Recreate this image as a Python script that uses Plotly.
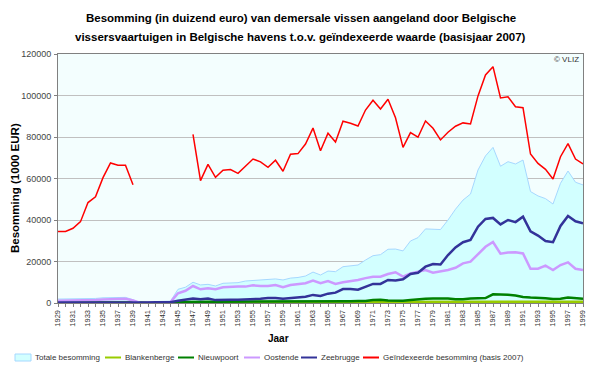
import plotly.graph_objects as go

years = list(range(1929, 2000))
tick_labels = [str(y) if (y - 1929) % 2 == 0 else "" for y in years]

totale = [1900, 1900, 2000, 2000, 2100, 2200, 2500, 2600, 2700, 2700, 1600,
          0, 600, 700, 900, 900,
          6600, 7600, 10000, 8700, 9000, 8200, 9500, 9800, 9800, 10600,
          10800, 11100, 11100, 11600, 11100, 12000, 12300, 13000, 14900, 13500,
          15400, 15100, 17500, 18000, 18300, 20700, 22800, 23300, 25900, 26000,
          25100, 29900, 31500, 35700, 35700, 35400, 40000, 45200, 49600, 52500,
          64100, 70900, 75000, 65900, 68100, 67000, 68900, 53700, 51600, 50300,
          47700, 57700, 63600, 58200, 56900]

blankenberge = [300, 300, 300, 300, 300, 300, 300, 300, 300, 300, 200,
                0, 0, 0, 0, 0,
                300, 300, 400, 400, 400, 400, 400, 400, 400, 400,
                400, 400, 400, 400, 400, 400, 400, 400, 400, 400,
                400, 400, 400, 400, 400, 400, 500, 500, 500, 500,
                500, 500, 500, 500, 500, 500, 500, 500, 500, 500,
                600, 600, 600, 600, 600, 600, 600, 600, 600, 600,
                600, 600, 600, 600, 600]

nieuwpoort = [200, 200, 200, 200, 200, 200, 200, 200, 200, 200, 150,
              0, 100, 100, 100, 100,
              500, 600, 600, 600, 600, 600, 600, 600, 700, 700,
              700, 700, 700, 700, 700, 800, 800, 800, 800, 800,
              900, 900, 900, 900, 1000, 1000, 1500, 1600, 1200, 1100,
              1100, 1400, 1800, 2000, 2200, 2200, 2200, 1800, 1800, 2200,
              2400, 2400, 4200, 4200, 4000, 3600, 2900, 2600, 2600, 2300,
              1900, 2000, 2600, 2300, 2000]

oostende = [1100, 1100, 1200, 1200, 1300, 1400, 1700, 1800, 1900, 2000, 1200,
            0, 200, 300, 400, 400,
            4700, 5900, 8200, 6600, 7100, 6600, 7600, 7900, 7900, 7900,
            8500, 8200, 8200, 8700, 7600, 8700, 9200, 9500, 10800, 9500,
            10600, 9200, 10000, 10500, 11100, 12000, 12700, 12700, 14000, 14800,
            12700, 14300, 15100, 15900, 14600, 15100, 15900, 17000, 19100, 19900,
            23600, 27100, 29400, 23800, 24300, 24400, 23900, 16500, 16500, 18000,
            15900, 18300, 19600, 16500, 15900]

zeebrugge = [300, 300, 300, 300, 300, 300, 300, 300, 300, 300, 200,
             0, 300, 400, 400, 400,
             1100, 1800, 2200, 1800, 2200, 1400, 1600, 1600, 1600, 1700,
             2000, 2000, 2400, 2400, 2000, 2400, 2500, 3000, 3900, 3400,
             4500, 5000, 6700, 6800, 6400, 7900, 9200, 9200, 11100, 10800,
             11400, 14000, 14600, 17500, 18800, 18600, 23100, 26800, 29300, 30400,
             36800, 40500, 41000, 37900, 40000, 39000, 41600, 34500, 32500, 29900,
             29300, 37100, 41900, 39400, 38400]

geindexeerd = [34400, 34500, 36000, 39200, 48400, 51200, 60400, 67500, 66400, 66400, 57000,
               None, None, None, None, None, None, None,
               81300, 59000, 66800, 60600, 64000, 64300, 62500, 66000,
               69400, 68000, 65400, 68800, 63500, 71700, 72000, 76600, 84300, 73400,
               81800, 77600, 87600, 86600, 85300, 93000, 97700, 93500, 98200, 89300,
               75000, 82100, 79900, 87700, 84200, 78600, 82300, 85200, 86800, 86300,
               99800, 109900, 113900, 98800, 99400, 94600, 94100, 71800, 67300, 64400,
               59800, 70500, 76800, 69400, 67000]

series_names = ["Totale besomming", "Blankenberge", "Nieuwpoort", "Oostende", "Zeebrugge",
                "Geïndexeerde besomming (basis 2007)"]
series_colors = ["#a6d8ff", "#99cc00", "#008000", "#cc99ff", "#333399", "#ff0000"]
title_lines = ["Besomming (in duizend euro) van demersale vissen aangeland door Belgische",
               "vissersvaartuigen in Belgische havens t.o.v. geïndexeerde waarde (basisjaar 2007)"]

FONT = "Liberation Sans"
# the page body has an 8px margin: figure is drawn 8px smaller and all
# reference pixel positions are shifted by -8
OFF = 8
W, H = 600 - OFF, 368 - OFF
L, R, T, B = 58 - OFF, 583 - OFF, 54 - OFF, 303 - OFF


def px(x):
    return (x - OFF - L) / (R - L)


def py(y):
    return (B - (y - OFF)) / (B - T)


fig = go.Figure()
fig.add_trace(go.Scatter(x=years, y=totale, name=series_names[0], mode="lines",
                         fill="tozeroy", fillcolor="#d2ffff",
                         line=dict(color=series_colors[0], width=1)))
for name, col, vals in zip(series_names[1:5], series_colors[1:5],
                           [blankenberge, nieuwpoort, oostende, zeebrugge]):
    fig.add_trace(go.Scatter(x=years, y=vals, name=name, mode="lines",
                             line=dict(color=col, width=2.5)))
fig.add_trace(go.Scatter(x=years, y=geindexeerd, name=series_names[5],
                         mode="lines", connectgaps=False,
                         line=dict(color=series_colors[5], width=1.5)))

# manual legend (one row, as in the reference)
legend_sym_x = [15, 105, 178, 244, 301, 363]
legend_y = 357.5
shapes = []
annotations = []
for i, (name, col, sx) in enumerate(zip(series_names, series_colors, legend_sym_x)):
    if i == 0:
        shapes.append(dict(type="rect", xref="paper", yref="paper",
                           x0=px(sx), x1=px(sx + 16), y0=py(legend_y + 3.5), y1=py(legend_y - 3.5),
                           fillcolor="#d2ffff", line=dict(color=col, width=1)))
    else:
        shapes.append(dict(type="line", xref="paper", yref="paper",
                           x0=px(sx), x1=px(sx + 16), y0=py(legend_y), y1=py(legend_y),
                           line=dict(color=col, width=2)))
    annotations.append(dict(text=name, xref="paper", yref="paper",
                            x=px(sx + 18), y=py(legend_y), xanchor="left", yanchor="middle",
                            showarrow=False,
                            font=dict(family=FONT, size=8, color="#333333")))

for line_text, ly in zip(title_lines, [18, 37]):
    annotations.append(dict(text="<b>" + line_text + "</b>", xref="paper", yref="paper",
                            x=px(300.5), y=py(ly), xanchor="center", yanchor="middle",
                            showarrow=False, font=dict(family=FONT, size=11.5, color="black")))

annotations += [
    dict(text="<b>Besomming (1000 EUR)</b>", textangle=-90, xref="paper", yref="paper",
         x=px(15), y=py(188), xanchor="center", yanchor="middle",
         showarrow=False, font=dict(family=FONT, size=11.5, color="black")),
    dict(text="<b>Jaar</b>", xref="paper", yref="paper",
         x=px(278), y=py(338), xanchor="center", yanchor="middle",
         showarrow=False, font=dict(family=FONT, size=10, color="black")),
    dict(text="© VLIZ", xref="paper", yref="paper",
         x=px(581), y=py(60), xanchor="right", yanchor="middle",
         showarrow=False, font=dict(family=FONT, size=8, color="#333333")),
]

fig.update_layout(
    width=W, height=H,
    margin=dict(l=L, r=W - R, t=T, b=H - B, autoexpand=False),
    paper_bgcolor="white", plot_bgcolor="#f3fefe",
    font=dict(family=FONT, size=9, color="#333333"),
    showlegend=False,
    xaxis=dict(range=[1929, 1999], tickmode="array", tickvals=years, ticktext=tick_labels,
               tickangle=-90, tickfont=dict(size=7.5, color="#333333"),
               ticks="outside", ticklen=3, tickcolor="#808080", automargin=False,
               showgrid=False, zeroline=False,
               showline=True, linecolor="#808080", mirror=True, linewidth=1),
    yaxis=dict(range=[0, 120000], dtick=20000, tickformat="d",
               tickfont=dict(size=9, color="#444444"), automargin=False,
               ticks="outside", ticklen=3, tickcolor="#808080", ticklabelstandoff=1,
               showgrid=True, gridcolor="#c0c0c0", gridwidth=1, zeroline=False,
               showline=True, linecolor="#808080", mirror=True, linewidth=1),
    shapes=shapes,
    annotations=annotations,
)

fig.write_html("out.html")
